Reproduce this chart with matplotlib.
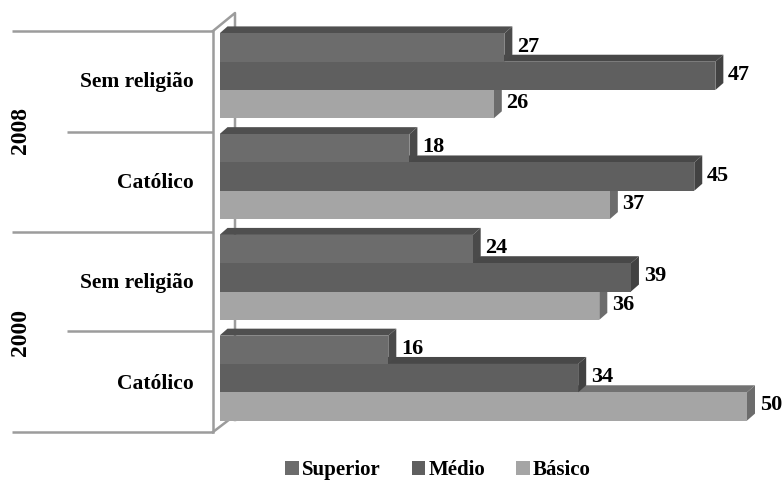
import matplotlib
matplotlib.use("Agg")
import matplotlib.pyplot as plt
from matplotlib.patches import Polygon, Rectangle, Patch

# dados
anos = ['2000', '2008']
categorias = ['Católico', 'Sem religião', 'Católico', 'Sem religião']  # de baixo para cima
series = ['Superior', 'Médio', 'Básico']
superior = [16, 24, 18, 27]
medio = [34, 39, 45, 47]
basico = [50, 36, 37, 26]

cores = {'Superior': ('#6c6c6c', '#4f4f4f', '#4a4a4a'),
         'Médio': ('#5f5f5f', '#484848', '#424242'),
         'Básico': ('#a5a5a5', '#727272', '#6c6c6c')}

plt.rcParams['font.family'] = ['Liberation Serif', 'DejaVu Serif']
plt.rcParams['font.weight'] = 'bold'

W, H = 784, 484
fig = plt.figure(figsize=(W / 100, H / 100), dpi=100)

# camada de fundo em pixels (parede e tabela de rótulos)
bg = fig.add_axes([0, 0, 1, 1], zorder=0)
bg.set_xlim(0, W)
bg.set_ylim(H, 0)
bg.axis('off')
lc = '#9c9c9c'
lw = 1.8
for y, x0 in [(31, 12), (132, 67), (232, 12), (331, 67), (432, 12)]:
    bg.plot([x0, 213], [y, y], color=lc, lw=lw, solid_capstyle='butt')
bg.plot([213, 213], [31, 432], color=lc, lw=lw)
bg.plot([213, 235, 235], [31, 13, 420], color=lc, lw=lw)
bg.plot([213, 230], [432, 419], color=lc, lw=lw)
bg.text(21, 130, anos[1], rotation=90, ha='center', va='center', fontsize=17)
bg.text(21, 333, anos[0], rotation=90, ha='center', va='center', fontsize=17)

# eixo das barras
x0px = 219.5
escala = 10.55  # px por unidade
ax = fig.add_axes([x0px / W, (H - 428.5) / H, (W - x0px) / W, (428.5 - 25.5) / H], zorder=1)
ax.set_xlim(0, (W - x0px) / escala)
ax.set_ylim(-0.5, 3.5)
ax.patch.set_alpha(0)
ax.axis('off')

dx = 8 / escala
dy = 7 / ((428.5 - 25.5) / 4)
hb = 0.281

valores = {'Superior': superior, 'Médio': medio, 'Básico': basico}
for i, cat in enumerate(categorias):
    ytop = i + 1.5 * hb
    # de baixo para cima: Básico, Médio, Superior
    for j, s in reversed(list(enumerate(series))):
        v = valores[s][i]
        hi = ytop - j * hb
        lo = hi - hb
        frente, topo, lado = cores[s]
        ax.add_patch(Polygon([(0, hi), (v, hi), (v + dx, hi + dy), (dx, hi + dy)],
                             closed=True, facecolor=topo, edgecolor='none'))
        ax.add_patch(Polygon([(v, lo), (v + dx, lo + dy), (v + dx, hi + dy), (v, hi)],
                             closed=True, facecolor=lado, edgecolor='none'))
        ax.add_patch(Rectangle((0, lo), v, hb, facecolor=frente, edgecolor='none'))
        ax.text(v + dx + 0.45, (lo + hi) / 2 + 0.01, str(v), ha='left', va='center',
                fontsize=16, clip_on=False, zorder=5)
    bg.text(194, 378 - i * 100.67 + 6, cat, ha='right', va='center', fontsize=15.5)

handles = [Patch(facecolor=cores[s][0], edgecolor='none', label=s) for s in series]
fig.legend(handles=handles, loc='center', bbox_to_anchor=(438 / W, 1 - 470 / H), ncol=3,
           frameon=False, fontsize=15, handlelength=0.65, handleheight=0.65,
           handletextpad=0.15, columnspacing=1.5)

fig.savefig('out.png', dpi=100, facecolor='white')
